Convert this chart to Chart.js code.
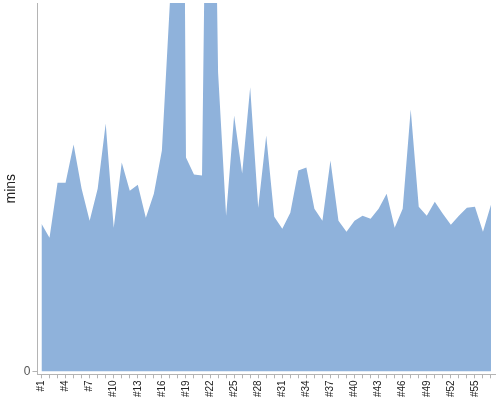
<!DOCTYPE html>
<html>
<head>
<meta charset="utf-8">
<script src="https://cdn.jsdelivr.net/npm/chart.js"></script>
<style>
  html, body { margin: 0; padding: 0; background: #fff; }
  #wrap { width: 500px; height: 400px; }
</style>
</head>
<body>
<div id="wrap"><canvas id="chartMins"></canvas></div>
<script>
// ─── DATA ────────────────────────────────────────────────────────────────
const runLabels = [
  '#1', '#2', '#3', '#4', '#5', '#6', '#7', '#8', '#9', '#10',
  '#11', '#12', '#13', '#14', '#15', '#16', '#17', '#18', '#19', '#20',
  '#21', '#22', '#23', '#24', '#25', '#26', '#27', '#28', '#29', '#30',
  '#31', '#32', '#33', '#34', '#35', '#36', '#37', '#38', '#39', '#40',
  '#41', '#42', '#43', '#44', '#45', '#46', '#47', '#48', '#49', '#50',
  '#51', '#52', '#53', '#54', '#55', '#56', '#57',
];
const minsValues = [
  14.7, 13.3, 18.8, 18.8, 22.6, 18.2, 15.0, 18.2, 24.7, 14.3,
  20.8, 18.0, 18.6, 15.3, 17.7, 22.0, 36.8, 144.5, 21.3, 19.6,
  19.5, 85.0, 29.8, 15.5, 25.5, 19.7, 28.3, 16.3, 23.5, 15.4,
  14.2, 15.8, 20.0, 20.3, 16.2, 15.0, 21.0, 15.0, 13.9, 15.0,
  15.5, 15.2, 16.2, 17.7, 14.3, 16.2, 26.1, 16.4, 15.5, 16.9,
  15.7, 14.6, 15.5, 16.3, 16.4, 13.9, 16.6,
];
const yTicks = [0];
const yMin = -0.3;   // small gap between the area and the x axis line
const yMax = 36.7;   // the two big spikes run off the top

// ─── CHART ───────────────────────────────────────────────────────────────
(function () {
  'use strict';
  const AXIS = '#b4b4b4';
  const FONT = 'Arial, "Liberation Sans", sans-serif';

  // drop the label overhang padding so the plot can reach the edges
  function noOverhang(s) {
    s.paddingTop = 0; s.paddingBottom = 0;
    s.paddingLeft = 0; s.paddingRight = 0;
  }

  const ctx = document.getElementById('chartMins').getContext('2d');
  new Chart(ctx, {
    type: 'line',
    data: {
      labels: runLabels,
      datasets: [{
        data: minsValues,
        fill: 'origin',
        backgroundColor: '#8fb2db',
        borderWidth: 0,
        pointRadius: 0,
        tension: 0,
      }],
    },
    options: {
      responsive: true,
      maintainAspectRatio: false,
      animation: false,
      layout: { padding: { left: 3, right: 5, top: 3, bottom: 1 } },
      plugins: { legend: { display: false }, tooltip: { enabled: false } },
      scales: {
        x: {
          offset: true,
          afterFit: noOverhang,
          grid: { offset: false, drawOnChartArea: false, drawTicks: true, tickLength: 4, color: AXIS },
          border: { display: true, color: AXIS },
          ticks: {
            autoSkip: false,
            maxRotation: 90, minRotation: 90,
            padding: 2,
            color: '#222',
            font: { family: FONT, size: 10 },
            callback: (v, i) => (i % 3 === 0 ? runLabels[i] : ''),
          },
        },
        y: {
          min: yMin, max: yMax,
          afterBuildTicks: (s) => { s.ticks = yTicks.map(v => ({ value: v })); },
          afterFit: noOverhang,
          grid: { drawOnChartArea: false, drawTicks: true, tickLength: 5, color: AXIS },
          border: { display: true, color: AXIS },
          ticks: { color: '#555', padding: 2, font: { family: FONT, size: 12 } },
          title: { display: true, text: 'mins', color: '#222', padding: { top: 0, bottom: 2 }, font: { family: FONT, size: 14 } },
        },
      },
    },
  });
})();
</script>
</body>
</html>
